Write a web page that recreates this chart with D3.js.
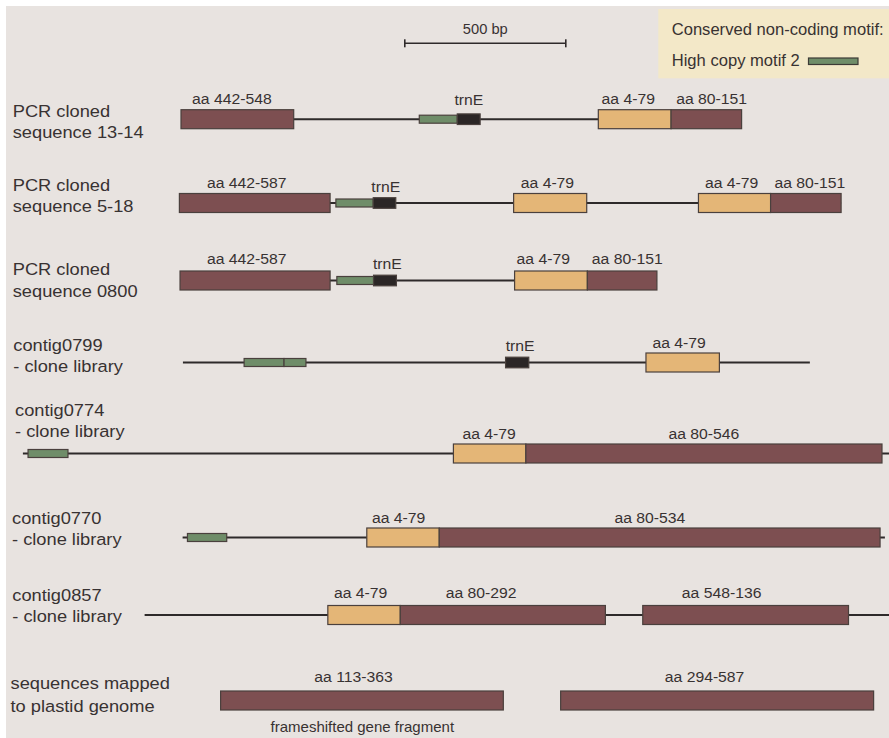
<!DOCTYPE html>
<html>
<head>
<meta charset="utf-8">
<script src="https://cdn.jsdelivr.net/npm/d3@7"></script>
<style>
  html, body { margin: 0; padding: 0; background: #ffffff; }
  svg { display: block; }
  text { font-family: "Liberation Sans", Arial, Helvetica, sans-serif; fill: #383232; }
</style>
</head>
<body>
<div id="chart"></div>
<script>
// ---------------- DATA (positions in base pairs) ----------------
const rowNames = [
  ["PCR cloned", "sequence 13-14"],
  ["PCR cloned", "sequence 5-18"],
  ["PCR cloned", "sequence 0800"],
  ["contig0799", "- clone library"],
  ["contig0774", "- clone library"],
  ["contig0770", "- clone library"],
  ["contig0857", "- clone library"],
  ["sequences mapped", "to plastid genome"]
];

// sequence backbone extent per row [start bp, end bp]; null = none
const backbones = [
  [500, 2241], [495, 2550], [497, 1978], [506, 2453],
  [9, 2700], [505, 2686], [387, 2700], null
];

// features: [row, kind, start bp, end bp]
// kind: "cds" (protein-coding, aa 80+ / 442+), "start" (aa 4-79), "motif" (high copy motif 2), "trnE"
const features = [
  [0, "cds", 500, 850], [0, "motif", 1240, 1358], [0, "trnE", 1358, 1429],
  [0, "start", 1796, 2022], [0, "cds", 2022, 2241],
  [1, "cds", 495, 963], [1, "motif", 981, 1097], [1, "trnE", 1097, 1167],
  [1, "start", 1533, 1760], [1, "start", 2107, 2331], [1, "cds", 2331, 2550],
  [2, "cds", 497, 963], [2, "motif", 984, 1098], [2, "trnE", 1098, 1169],
  [2, "start", 1536, 1762], [2, "cds", 1762, 1978],
  [3, "motif", 696, 820], [3, "motif", 820, 888], [3, "trnE", 1508, 1580],
  [3, "start", 1944, 2172],
  [4, "motif", 25, 149], [4, "start", 1346, 1571], [4, "cds", 1571, 2677],
  [5, "motif", 520, 642], [5, "start", 1077, 1302], [5, "cds", 1302, 2671],
  [6, "start", 956, 1181], [6, "cds", 1181, 1818], [6, "cds", 1934, 2573],
  [7, "cds", 623, 1501], [7, "cds", 1679, 2651]
];

// feature labels: [row, text, centre bp, kind]
const featureLabels = [
  [0, "aa 442-548", 658, "aa"], [0, "trnE", 1394, "trn"], [0, "aa 4-79", 1889, "aa"], [0, "aa 80-151", 2148, "aa"],
  [1, "aa 442-587", 704, "aa"], [1, "trnE", 1136, "trn"], [1, "aa 4-79", 1638, "aa"], [1, "aa 4-79", 2210, "aa"], [1, "aa 80-151", 2453, "aa"],
  [2, "aa 442-587", 704, "aa"], [2, "trnE", 1141, "trn"], [2, "aa 4-79", 1625, "aa"], [2, "aa 80-151", 1886, "aa"],
  [3, "trnE", 1553, "trn"], [3, "aa 4-79", 2047, "aa"],
  [4, "aa 4-79", 1457, "aa"], [4, "aa 80-546", 2124, "aa"],
  [5, "aa 4-79", 1176, "aa"], [5, "aa 80-534", 1956, "aa"],
  [6, "aa 4-79", 1058, "aa"], [6, "aa 80-292", 1432, "aa"], [6, "aa 548-136", 2179, "aa"],
  [7, "aa 113-363", 1036, "aa"], [7, "aa 294-587", 2126, "aa"]
];

const noteText = "frameshifted gene fragment";
const noteAt = 1063;

const scaleBar = { start: 1195, end: 1695, label: "500 bp" };
const legendTitle = "Conserved non-coding motif:";
const legendItem = "High copy motif 2";

// ---------------- LAYOUT / STYLE ----------------
const W = 889, H = 738;
const rowY = [119.2, 203, 280.5, 362.5, 453.5, 537.5, 615, 700.5];
const labelGap = [15, 15, 16.5, 15, 15, 15, 17, 19];
const trnGap = [14, 11.5, 11.5, 11.5, 11.5, 11.5, 11.5, 11.5];
const nameX = [12.7, 12.7, 12.7, 13.3, 15, 12, 12.3, 10.5];
const nameY = [[117, 138.3], [191, 212.3], [275, 296.7], [350.7, 372], [415.5, 436.7], [523.5, 545], [601, 621.7], [689, 711.5]];

const colors = {
  cds: "#7d4f51",
  start: "#e4b677",
  motif: "#6f8d69",
  trnE: "#2b2626"
};
const halfH = { cds: 9.5, start: 9.5, motif: 4, trnE: 5.3 };
const STRETCH = 1.05;

const x = d3.scaleLinear().domain([0, 2700]).range([20, 889.4]);

const svg = d3.select("#chart").append("svg")
  .attr("width", W).attr("height", H);

svg.append("rect").attr("x", 0).attr("y", 0).attr("width", W).attr("height", H).attr("fill", "#ffffff");
svg.append("rect").attr("x", 6).attr("y", 6).attr("width", W - 6).attr("height", H - 6).attr("fill", "#e8e3e0");

function stretchedText(sel, px, py, txt, size, anchor) {
  return sel.append("text")
    .attr("transform", `translate(${px},${py}) scale(${STRETCH},1)`)
    .attr("text-anchor", anchor || "start")
    .style("font-size", size + "px")
    .text(txt);
}

// legend
svg.append("rect").attr("x", 658.3).attr("y", 9).attr("width", W - 658.3).attr("height", 69.3).attr("fill", "#f3e8c8");
stretchedText(svg, 671.7, 35, legendTitle, 15.8);
stretchedText(svg, 671.7, 66, legendItem, 15.8);
svg.append("rect").attr("x", 808.5).attr("y", 58).attr("width", 49.5).attr("height", 6.5)
  .attr("fill", colors.motif).attr("stroke", "#3d3a36").attr("stroke-width", 1.2);

// scale bar
const sb = svg.append("g");
const sbY = 43.3;
sb.append("line").attr("x1", x(scaleBar.start)).attr("x2", x(scaleBar.end)).attr("y1", sbY).attr("y2", sbY)
  .attr("stroke", "#2e2a2a").attr("stroke-width", 1.6);
[scaleBar.start, scaleBar.end].forEach(v => {
  sb.append("line").attr("x1", x(v)).attr("x2", x(v)).attr("y1", sbY - 4).attr("y2", sbY + 4)
    .attr("stroke", "#2e2a2a").attr("stroke-width", 1.6);
});
stretchedText(sb, (x(scaleBar.start) + x(scaleBar.end)) / 2, 34, scaleBar.label, 14, "middle");

// row names
rowNames.forEach((lines, i) => {
  lines.forEach((t, j) => stretchedText(svg, nameX[i], nameY[i][j], t, 17.4));
});

// backbones
svg.append("g").selectAll("line")
  .data(backbones.map((b, i) => ({ b, i })).filter(d => d.b))
  .join("line")
  .attr("x1", d => x(d.b[0])).attr("x2", d => x(d.b[1]))
  .attr("y1", d => rowY[d.i]).attr("y2", d => rowY[d.i])
  .attr("stroke", "#2e2a2a").attr("stroke-width", 2);

// feature boxes
svg.append("g").selectAll("rect")
  .data(features)
  .join("rect")
  .attr("x", d => x(d[2]))
  .attr("width", d => x(d[3]) - x(d[2]))
  .attr("y", d => rowY[d[0]] - halfH[d[1]])
  .attr("height", d => 2 * halfH[d[1]])
  .attr("fill", d => colors[d[1]])
  .attr("stroke", "#4a403d")
  .attr("stroke-width", 1.2);

// feature labels
const lg = svg.append("g");
featureLabels.forEach(d => {
  const gap = d[3] === "trn" ? trnGap[d[0]] : labelGap[d[0]];
  stretchedText(lg, x(d[2]), rowY[d[0]] - gap, d[1], 15, "middle");
});

// note under mapped sequences
stretchedText(svg, x(noteAt), 731.5, noteText, 14.3, "middle");
</script>
</body>
</html>
